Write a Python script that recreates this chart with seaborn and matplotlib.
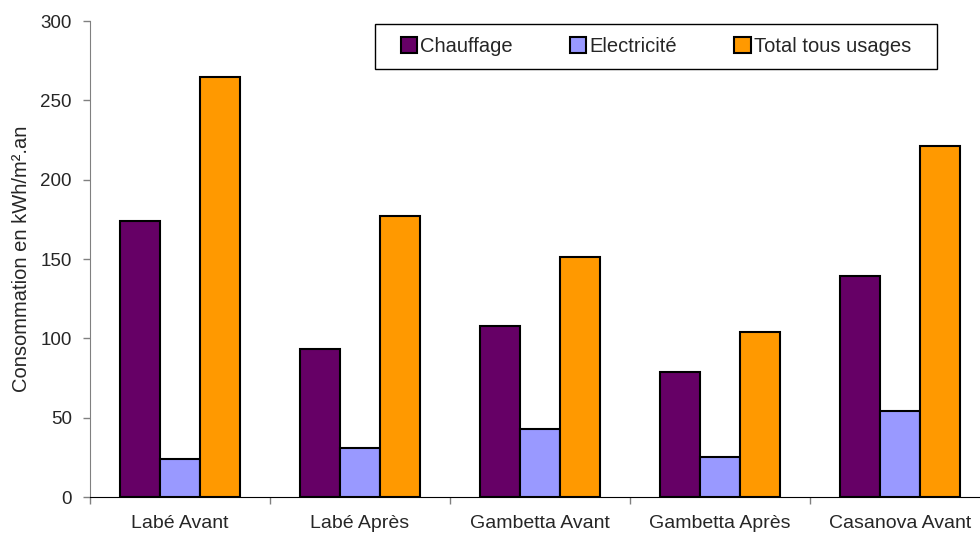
import matplotlib
matplotlib.use("Agg")
import matplotlib.pyplot as plt
import seaborn as sns
import pandas as pd
import numpy as np
from matplotlib.patches import Rectangle

# Données
sites = ['Labé Avant', 'Labé Après', 'Gambetta Avant', 'Gambetta Après', 'Casanova Avant']
chauffage = [174, 93, 108, 79, 139]
electricite = [24, 31, 43, 25, 54]
total = [265, 177, 151, 104, 221]
series = ['Chauffage', 'Electricité', 'Total tous usages']
couleurs = ['#660066', '#9999FF', '#FF9900']


def construire_df():
    '''Met les séries au format long pour seaborn'''
    df = pd.DataFrame({'Site': sites,
                       'Chauffage': chauffage,
                       'Electricité': electricite,
                       'Total tous usages': total})
    return df.melt(id_vars='Site', var_name='Usage', value_name='Valeur')


def tracer(df):
    sns.set_style('white')
    plt.rcParams['font.family'] = ['Liberation Sans', 'DejaVu Sans']

    fig = plt.figure(figsize=(9.8, 5.35), dpi=100)
    # l'axe déborde légèrement à droite, comme dans l'original
    ax = fig.add_axes([90 / 980, 38 / 535, 900 / 980, 476 / 535])

    sns.barplot(data=df, x='Site', y='Valeur', hue='Usage',
                hue_order=series, order=sites, palette=couleurs,
                width=0.67, edgecolor='black', linewidth=1.5,
                saturation=1, ax=ax)

    ax.set_xlim(-0.5, len(sites) - 0.5)
    ax.set_ylim(0, 300)
    ax.set_yticks(range(0, 301, 50))
    ax.set_ylabel('Consommation en kWh/m².an', fontsize=14.5, labelpad=7)
    ax.set_xlabel('')

    # graduations x aux limites des catégories
    ax.set_xticks(np.arange(-0.5, len(sites), 1.0), minor=True)
    ax.tick_params(axis='x', which='minor', length=5, width=1,
                   color='#808080', direction='out', bottom=True)
    ax.tick_params(axis='x', which='major', length=0, pad=13, labelsize=14)
    ax.tick_params(axis='y', length=5, width=1, color='#808080',
                   direction='out', left=True, pad=8, labelsize=13.5)

    for side in ['top', 'right']:
        ax.spines[side].set_visible(False)
    ax.spines['left'].set_color('#808080')
    ax.spines['bottom'].set_color('black')

    # cadre de la légende, plus large que haut comme dans Excel
    cadre = Rectangle((0.3167, 0.8992), 0.6244, 0.0945, transform=ax.transAxes,
                      facecolor='white', edgecolor='black', linewidth=1,
                      zorder=4)
    ax.add_patch(cadre)
    leg = ax.legend(loc='center', bbox_to_anchor=(0.6289, 0.9464),
                    ncol=3, fontsize=14.5, frameon=False,
                    handlelength=0.8, handleheight=0.8,
                    columnspacing=2.85, handletextpad=0.15,
                    borderpad=0, borderaxespad=0)
    leg.set_zorder(5)

    fig.savefig('out.png', dpi=100)


if __name__ == '__main__':
    df = construire_df()
    tracer(df)
